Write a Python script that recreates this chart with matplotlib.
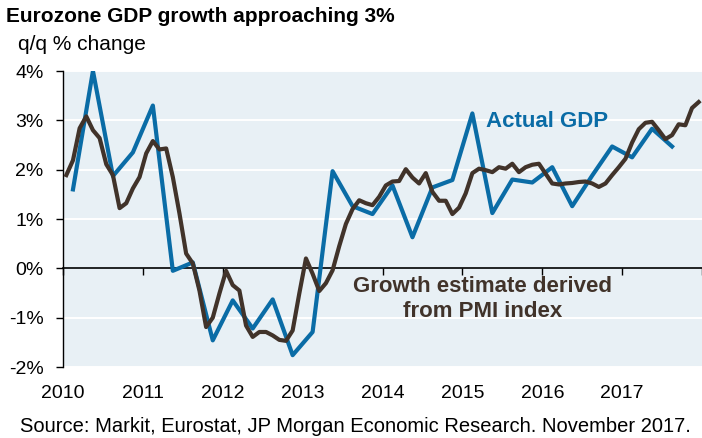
import matplotlib
matplotlib.use("Agg")
import matplotlib.pyplot as plt
import pandas as pd

plt.rcParams["font.family"] = ["Liberation Sans", "DejaVu Sans"]

# Actual GDP, q/q % change (annualised), 2010Q1 - 2017Q3
gdp = [1.6, 4.0, 1.87, 2.35, 3.3, -0.05, 0.12, -1.46, -0.65, -1.22, -0.63,
       -1.76, -1.29, 1.97, 1.26, 1.1, 1.68, 0.63, 1.64, 1.79, 3.14, 1.12,
       1.8, 1.74, 2.05, 1.26, 1.88, 2.47, 2.25, 2.83, 2.47]

# Growth estimate derived from PMI index, monthly Jan 2010 - Dec 2017
pmi = [1.89, 2.19, 2.84, 3.08, 2.8, 2.64, 2.11, 1.89, 1.22, 1.32, 1.62, 1.85,
       2.33, 2.58, 2.41, 2.43, 1.85, 1.11, 0.3, 0.1, -0.45, -1.19, -1.0, -0.51,
       -0.05, -0.34, -0.45, -1.16, -1.39, -1.29, -1.29, -1.36, -1.45, -1.47, -1.26, -0.51,
       0.2, -0.11, -0.46, -0.3, -0.04, 0.45, 0.9, 1.2, 1.38, 1.32, 1.28, 1.45,
       1.68, 1.76, 1.77, 2.01, 1.84, 1.72, 1.93, 1.55, 1.37, 1.37, 1.1, 1.23,
       1.52, 1.93, 2.02, 1.99, 1.95, 2.05, 2.02, 2.12, 1.95, 2.05, 2.1, 2.12,
       1.92, 1.72, 1.7, 1.72, 1.73, 1.75, 1.76, 1.72, 1.65, 1.72, 1.89, 2.05,
       2.22, 2.55, 2.82, 2.95, 2.97, 2.8, 2.62, 2.7, 2.92, 2.9, 3.25, 3.37]

years = [2010, 2011, 2012, 2013, 2014, 2015, 2016, 2017]
y_ticks = [-2, -1, 0, 1, 2, 3, 4]

# mid-period positions in decimal years
quarters = pd.period_range("2010Q1", periods=len(gdp), freq="Q")
gdp_x = [q.year + (q.quarter - 0.5) / 4 for q in quarters]
months = pd.period_range("2010-01", periods=len(pmi), freq="M")
pmi_x = [m.year + (m.month - 0.5) / 12 for m in months]

blue = "#0a6ca6"
brown = "#41332a"

fig = plt.figure(figsize=(7.02, 4.38), dpi=100)
ax = fig.add_axes([63 / 702, 71 / 438, 639 / 702, 296 / 438])
ax.set_facecolor("#e8f0f5")

for v in y_ticks:
    if v != 0:
        ax.axhline(v, color="white", lw=1.4, zorder=1)

ax.plot(gdp_x, gdp, color=blue, lw=3, zorder=3)
ax.plot(pmi_x, pmi, color=brown, lw=3, zorder=4)

ax.set_xlim(2010, 2018)
ax.set_ylim(-2, 4)

for s in ["top", "right", "bottom"]:
    ax.spines[s].set_visible(False)
ax.spines["left"].set_color("black")
ax.spines["left"].set_linewidth(1)

ax.set_yticks(y_ticks)
ax.set_yticklabels([f"{v}%" for v in y_ticks])
ax.tick_params(axis="y", length=5, width=1, pad=9, labelsize=14)

ax.set_xticks(years)
ax.set_xticklabels([str(y) for y in years])
ax.tick_params(axis="x", length=0, pad=13, labelsize=14)

# zero line with its own year ticks
zero = ax.secondary_xaxis(0, transform=ax.transData)
zero.set_xticks(years + [2018])
zero.tick_params(length=5, width=1, labelbottom=False)
zero.spines["bottom"].set_linewidth(1.2)

ax.text(2015.3, 2.98, "Actual GDP", color=blue, fontsize=16,
        fontweight="bold", ha="left", va="center")
ax.text(2015.25, -0.62, "Growth estimate derived\nfrom PMI index", color=brown,
        fontsize=16, fontweight="bold", ha="center", va="center")

fig.text(0.008, 0.985, "Eurozone GDP growth approaching 3%", fontsize=15,
         fontweight="bold", ha="left", va="top")
fig.text(0.026, 0.885, "q/q % change", fontsize=15, ha="left", va="baseline")
fig.text(0.028, 0.013, "Source: Markit, Eurostat, JP Morgan Economic Research. November 2017.",
         fontsize=14.5, ha="left", va="baseline")

fig.savefig("out.png", dpi=100)
